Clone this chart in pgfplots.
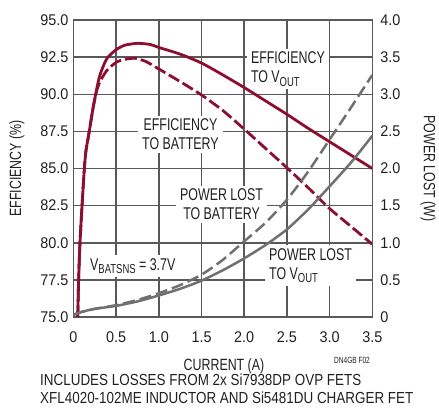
\documentclass[border=0pt]{standalone}
\usepackage{pgfplots}
\pgfplotsset{compat=1.18}
\usepackage{fontspec}
\setmainfont{Liberation Sans}[FakeStretch=0.73]
\newfontfamily\tickfont{Liberation Sans}[FakeStretch=0.93]
\newfontfamily\notefont{Liberation Sans}[FakeStretch=0.84]
\newfontfamily\labfont{Liberation Sans}[FakeStretch=0.76]
\definecolor{cred}{RGB}{140,14,48}
\definecolor{cgray}{RGB}{112,112,114}
\definecolor{cgrid}{RGB}{88,89,91}
\definecolor{ctext}{RGB}{35,31,32}
\newcommand\sub[1]{\raisebox{-3.5pt}{\fontsize{13}{13}\selectfont #1}}
\tikzset{lbl/.style={fill=white, inner xsep=4pt, inner ysep=3pt, text=ctext,
  font=\fontsize{17}{19}\selectfont}}
\begin{document}
\begin{tikzpicture}[x=1pt,y=1pt]
\path[use as bounding box] (-73.5,-90) rectangle (365.5,317);
\begin{axis}[
  scale only axis, width=298.8pt, height=297pt,
  xmin=0, xmax=3.5, ymin=75, ymax=95,
  xtick={0,0.5,...,3.5}, ytick={75,77.5,...,95},
  xticklabels={0,0.5,1.0,1.5,2.0,2.5,3.0,3.5},
  yticklabels={75.0,77.5,80.0,82.5,85.0,87.5,90.0,92.5,95.0},
  grid=major, major grid style={cgrid, line width=1.5pt},
  axis line style={cgrid, line width=1.5pt},
  major tick length=0pt,
  tick label style={font=\tickfont\fontsize{15.5}{15.5}\selectfont, text=ctext},
  xticklabel style={yshift=-11.5pt},
  yticklabel style={xshift=-1.5pt},
]
\node[lbl, anchor=west, align=left] at (axis cs:2.03,91.7) {EFFICIENCY\\TO V\sub{OUT}};
\node[lbl, align=center] at (axis cs:1.253,87.29) {EFFICIENCY\\TO BATTERY};
\node[lbl, align=center] at (axis cs:1.734,82.58) {POWER LOST\\TO BATTERY};
\node[lbl, anchor=west, align=left] at (axis cs:2.243,78.47) {POWER LOST\\TO V\sub{OUT}};
\node[lbl, anchor=base west] at (axis cs:0.146,78.16) {V\sub{BATSNS} = 3.7V};
\addplot[cred, line width=2.8pt, smooth, tension=0.4] coordinates {
(0.05,75) (0.06,77.5) (0.076,80) (0.10,82.5) (0.127,85) (0.146,86.2) (0.17,87.0)
(0.193,87.8) (0.23,89.1) (0.27,90.3) (0.31,91.3) (0.39,92.4) (0.5,93.0) (0.6,93.3)
(0.75,93.43) (0.9,93.35) (1.0,93.15) (1.25,92.7) (1.5,92.1) (1.75,91.3) (2.0,90.45)
(2.25,89.55) (2.5,88.65) (2.75,87.7) (3.0,86.8) (3.25,85.9) (3.5,85.0)};
\addplot[cred, line width=2.8pt, dash pattern=on 12pt off 4pt, smooth, tension=0.4] coordinates {
(0.05,75) (0.06,77.5) (0.076,80) (0.10,82.5) (0.127,85) (0.146,86.2) (0.17,87.0)
(0.193,87.8) (0.23,89.1) (0.27,90.2) (0.31,90.85) (0.39,91.6) (0.5,92.15) (0.6,92.35)
(0.72,92.42) (0.85,92.2) (1.0,91.7) (1.25,90.85) (1.5,89.95) (1.75,88.9) (2.0,87.65)
(2.25,86.35) (2.5,85.05) (2.75,83.7) (3.0,82.3) (3.25,81.1) (3.5,79.9)};
\end{axis}
\begin{axis}[
  scale only axis, width=298.8pt, height=297pt,
  xmin=0, xmax=3.5, ymin=0, ymax=4,
  hide x axis, axis y line*=right,
  ytick={0,0.5,...,4},
  yticklabels={0,0.5,1.0,1.5,2.0,2.5,3.0,3.5,4.0},
  axis line style={cgrid, line width=1.5pt},
  major tick length=0pt,
  tick label style={font=\tickfont\fontsize{15.5}{15.5}\selectfont, text=ctext},
  yticklabel style={xshift=4.5pt},
]
\addplot[cgray, line width=2.5pt, smooth, tension=0.4] coordinates {
(0,0.03) (0.1,0.07) (0.25,0.11) (0.5,0.15) (0.75,0.21) (1.0,0.29) (1.25,0.38) (1.5,0.49)
(1.75,0.63) (2.0,0.79) (2.25,0.97) (2.5,1.18) (2.75,1.45) (3.0,1.76) (3.25,2.08) (3.5,2.44)};
\addplot[cgray, line width=2.5pt, dash pattern=on 12pt off 5pt, smooth, tension=0.4] coordinates {
(0,0.03) (0.1,0.07) (0.25,0.11) (0.5,0.16) (0.75,0.23) (1.0,0.32) (1.25,0.43) (1.5,0.57)
(1.75,0.77) (2.0,1.02) (2.25,1.27) (2.5,1.58) (2.75,1.96) (3.0,2.39) (3.25,2.82) (3.5,3.26)};
\end{axis}
\node[text=ctext, inner sep=0pt, font=\labfont\fontsize{16.3}{16.3}\selectfont] at (150.5,-49.5) {CURRENT (A)};
\node[text=ctext, font=\labfont\fontsize{16.3}{16.3}\selectfont, rotate=90] at (-56.5,148.5) {EFFICIENCY (\%)};
\node[text=ctext, font=\labfont\fontsize{16.3}{16.3}\selectfont, rotate=-90] at (354.5,148.5) {POWER LOST (W)};
\node[text=ctext, font=\fontsize{9}{9}\selectfont] at (278.5,-43) {DN4GB F02};
\node[text=ctext, anchor=base west, font=\notefont\fontsize{16}{16}\selectfont, inner sep=0pt]
  at (-33.5,-68.5) {INCLUDES LOSSES FROM 2x Si7938DP OVP FETS};
\node[text=ctext, anchor=base west, font=\notefont\fontsize{16}{16}\selectfont, inner sep=0pt]
  at (-33.5,-86) {XFL4020-102ME INDUCTOR AND Si5481DU CHARGER FET};
\end{tikzpicture}
\end{document}
